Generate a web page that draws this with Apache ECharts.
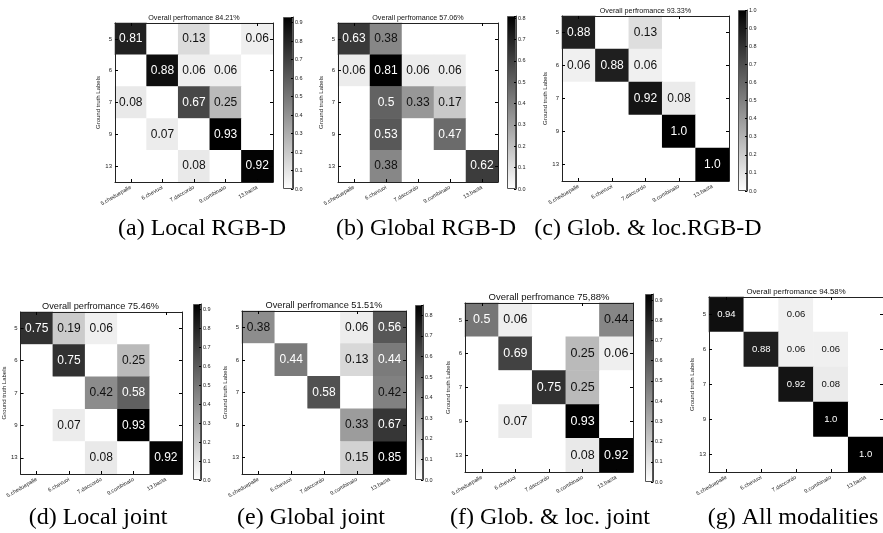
<!DOCTYPE html>
<html><head><meta charset="utf-8">
<script src="https://cdn.jsdelivr.net/npm/echarts@6/dist/echarts.min.js"></script>
<style>html,body{margin:0;padding:0;background:#fff}#c{width:883px;height:533px}</style>
</head><body><div id="c"></div>
<script>
const rowLabels = ['5', '6', '7', '9', '13'];
const colLabels = ['5.cheduepalle', '6.chevuoi', '7.daccordo', '9.combinato', '13.basta'];

const matLocalRGBD = [
  [0.81, 0, 0.13, 0, 0.06],
  [0, 0.88, 0.06, 0.06, 0],
  [0.08, 0, 0.67, 0.25, 0],
  [0, 0.07, 0, 0.93, 0],
  [0, 0, 0.08, 0, 0.92]
];
const matGlobalRGBD = [
  [0.63, 0.38, 0, 0, 0],
  [0.06, 0.81, 0.06, 0.06, 0],
  [0, 0.5, 0.33, 0.17, 0],
  [0, 0.53, 0, 0.47, 0],
  [0, 0.38, 0, 0, 0.62]
];
const matGlobLocRGBD = [
  [0.88, 0, 0.13, 0, 0],
  [0.06, 0.88, 0.06, 0, 0],
  [0, 0, 0.92, 0.08, 0],
  [0, 0, 0, 1.0, 0],
  [0, 0, 0, 0, 1.0]
];
const matLocalJoint = [
  [0.75, 0.19, 0.06, 0, 0],
  [0, 0.75, 0, 0.25, 0],
  [0, 0, 0.42, 0.58, 0],
  [0, 0.07, 0, 0.93, 0],
  [0, 0, 0.08, 0, 0.92]
];
const matGlobalJoint = [
  [0.38, 0, 0, 0.06, 0.56],
  [0, 0.44, 0, 0.13, 0.44],
  [0, 0, 0.58, 0, 0.42],
  [0, 0, 0, 0.33, 0.67],
  [0, 0, 0, 0.15, 0.85]
];
const matGlobLocJoint = [
  [0.5, 0.06, 0, 0, 0.44],
  [0, 0.69, 0, 0.25, 0.06],
  [0, 0, 0.75, 0.25, 0],
  [0, 0.07, 0, 0.93, 0],
  [0, 0, 0, 0.08, 0.92]
];
const matAll = [
  [0.94, 0, 0.06, 0, 0],
  [0, 0.88, 0.06, 0.06, 0],
  [0, 0, 0.92, 0.08, 0],
  [0, 0, 0, 1.0, 0],
  [0, 0, 0, 0, 1.0]
];
const matrices = [matLocalRGBD, matGlobalRGBD, matGlobLocRGBD, matLocalJoint, matGlobalJoint, matGlobLocJoint, matAll];
const colorbarMax = [0.93, 0.81, 1.0, 0.93, 0.85, 0.93, 1.0];
const panelTitles = ['Overall perfromance 84.21%', 'Overall perfromance 57.06%', 'Overall perfromance 93.33%',
  'Overall perfromance 75.46%', 'Overall perfromance 51.51%', 'Overall perfromance 75,88%', 'Overall perfromance 94.58%'];
const captions = ['(a) Local RGB-D', '(b) Global RGB-D', '(c) Glob. & loc.RGB-D',
  '(d) Local joint', '(e) Global joint', '(f) Glob. & loc. joint', '(g) All modalities'];
const yAxisName = 'Ground truth Labels';

// layout (positions/sizes only)
const layout = [
  {l:115, t:23, w:158, h:159, cb:{l:283, t:17, w:10, h:172}, cell:12, title:7.2, cap:{x:202, y:229}},
  {l:338, t:23, w:160, h:159, cb:{l:507, t:16, w:9, h:173}, cell:12, title:7.2, cap:{x:426, y:229}},
  {l:562, t:16, w:167, h:165, cb:{l:738, t:10, w:9, h:181}, cell:12, title:7.2, cap:{x:648, y:229}},
  {l:19,  t:312, w:163, h:162, cb:{l:193, t:304, w:8, h:176}, cell:12, title:9.2, cap:{x:98, y:518}},
  {l:242, t:311, w:164, h:163, cb:{l:415, t:305, w:8, h:175}, cell:12, title:9.2, cap:{x:311, y:518}},
  {l:465, t:303, w:168, h:169, cb:{l:645, t:294, w:8, h:188}, cell:12.5, title:9.5, cap:{x:550, y:518}},
  {l:709, t:297, w:174, h:175, cb:null, cell:9.5, title:7.8, cap:{x:793, y:518}}
];

const F = "'Liberation Sans',Arial,sans-serif";
const SERIF = "'Liberation Serif','DejaVu Serif',serif";

function fmt(v) { return Number.isInteger(v) ? v.toFixed(1) : String(v); }

const grid = [], xAxis = [], yAxis = [], series = [], visualMap = [], graphic = [];

layout.forEach((L, i) => {
  const gi = grid.length;
  grid.push({left: L.l, top: L.t, width: L.w, height: L.h, containLabel: false});
  const tickStyle = {show: true, inside: true, length: 3, alignWithLabel: true, lineStyle: {color: '#000', width: 1}};
  const lineStyle = {show: true, onZero: false, lineStyle: {color: '#222', width: 1}};
  const xi = xAxis.length;
  xAxis.push({type: 'category', gridIndex: gi, data: colLabels, position: 'bottom', z: 5,
    axisLine: lineStyle, axisTick: tickStyle, splitLine: {show: false},
    axisLabel: {rotate: 30, fontSize: 5.5, fontFamily: F, color: '#222', margin: 5, interval: 0}});
  xAxis.push({type: 'category', gridIndex: gi, data: colLabels, position: 'top', z: 5,
    axisLine: lineStyle, axisTick: tickStyle, axisLabel: {show: false}});
  const yi = yAxis.length;
  yAxis.push({type: 'category', gridIndex: gi, data: rowLabels, inverse: true, position: 'left', z: 5,
    axisLine: lineStyle, axisTick: tickStyle, splitLine: {show: false},
    axisLabel: {fontSize: 6, fontFamily: F, color: '#222', margin: 3},
    name: yAxisName, nameLocation: 'middle', nameRotate: 90, nameGap: 11,
    nameTextStyle: {fontSize: 6, fontFamily: F, color: '#222'}});
  yAxis.push({type: 'category', gridIndex: gi, data: rowLabels, inverse: true, position: 'right', z: 5,
    axisLine: lineStyle, axisTick: tickStyle, axisLabel: {show: false}});

  const M = matrices[i], mx = colorbarMax[i];
  const data = [];
  M.forEach((row, r) => row.forEach((v, c) => {
    data.push({value: [c, r, v], label: {color: v / mx > 0.5 ? '#ffffff' : '#111111'}});
  }));
  const si = series.length;
  series.push({type: 'heatmap', xAxisIndex: xi, yAxisIndex: yi, data: data, silent: true,
    label: {show: true, fontSize: L.cell, fontFamily: F,
      formatter: p => p.value[2] === 0 ? '' : fmt(p.value[2])},
    itemStyle: {borderWidth: 0}});
  visualMap.push({type: 'continuous', show: false, seriesIndex: si, dimension: 2, min: 0, max: mx,
    inRange: {color: ['#ffffff', '#000000']}});

  graphic.push({type: 'text', x: L.l + L.w / 2, y: L.t - 1,
    style: {text: panelTitles[i], font: L.title + 'px ' + F, fill: '#111', textAlign: 'center', textVerticalAlign: 'bottom'}});
  graphic.push({type: 'text', x: L.cap.x, y: L.cap.y,
    style: {text: captions[i], font: '24px ' + SERIF, fill: '#000', textAlign: 'center', textVerticalAlign: 'middle'}});

  if (L.cb) {
    const cg = grid.length;
    grid.push({left: L.cb.l, top: L.cb.t, width: L.cb.w, height: L.cb.h});
    const cx = xAxis.length;
    xAxis.push({type: 'category', gridIndex: cg, data: [''], show: false});
    const cy = yAxis.length;
    yAxis.push({type: 'value', gridIndex: cg, min: 0, max: mx, interval: 0.1, position: 'right', z: 5,
      splitLine: {show: false},
      axisLine: {show: true, lineStyle: {color: '#444', width: 1}},
      axisTick: {show: true, inside: true, length: 2, lineStyle: {color: '#000'}},
      axisLabel: {fontSize: 5.5, fontFamily: F, color: '#222', margin: 2,
        formatter: v => Math.abs(v * 10 - Math.round(v * 10)) > 1e-6 ? '' : v.toFixed(1)}});
    series.push({type: 'bar', xAxisIndex: cx, yAxisIndex: cy, data: [mx], barWidth: '100%', silent: true,
      itemStyle: {borderColor: '#555', borderWidth: 1,
        color: new echarts.graphic.LinearGradient(0, 0, 0, 1, [{offset: 0, color: '#000000'}, {offset: 1, color: '#ffffff'}])}});
  }
});

const chart = echarts.init(document.getElementById('c'), null, {renderer: 'canvas'});
chart.setOption({animation: false, backgroundColor: '#ffffff', grid, xAxis, yAxis, series, visualMap, graphic});
</script></body></html>
